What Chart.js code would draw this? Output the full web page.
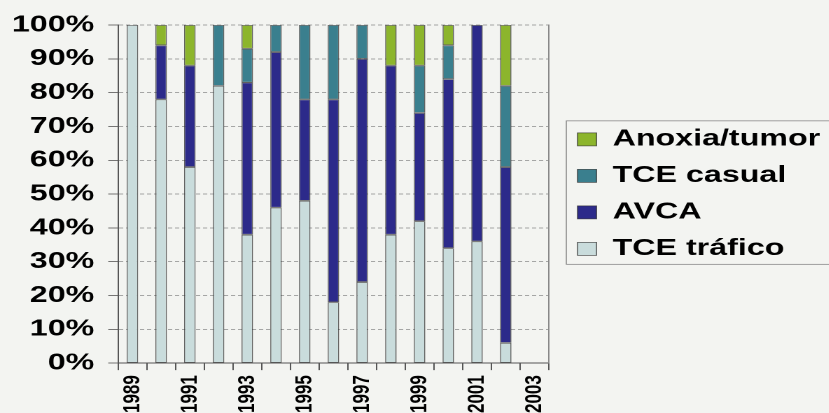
<!DOCTYPE html>
<html>
<head>
<meta charset="utf-8">
<script src="https://cdn.jsdelivr.net/npm/chart.js@4"></script>
<style>
    html, body { margin: 0; padding: 0; background: #f3f4f1; overflow: hidden; }
    /* the chart is laid out narrow and then widened, which gives the wide lettering */
    #wrap {
        position: absolute; left: 0; top: 0;
        width: 592px; height: 413px;
        transform: scaleX(1.4);
        transform-origin: 0 0;
    }
</style>
</head>
<body>
<div id="wrap"><canvas id="causasChart"></canvas></div>
<script>
// share of each cause per year (%)
const years = ['1989', '1990', '1991', '1992', '1993', '1994', '1995', '1996',
               '1997', '1998', '1999', '2000', '2001', '2002', '2003'];
const tceTrafico = [100, 78, 58, 82, 38, 46, 48, 18, 24, 38, 42, 34, 36, 6, 0];
const avca       = [0, 16, 30, 0, 45, 46, 30, 60, 66, 50, 32, 50, 64, 52, 0];
const tceCasual  = [0, 0, 0, 18, 10, 8, 22, 22, 10, 0, 14, 10, 0, 24, 0];
const anoxia     = [0, 6, 12, 0, 7, 0, 0, 0, 0, 12, 12, 6, 0, 18, 0];

const yTicks = [0, 10, 20, 30, 40, 50, 60, 70, 80, 90, 100];

var ctx = document.getElementById('causasChart').getContext('2d');

function serie(label, data, color) {
    return {
        label: label,
        data: data,
        backgroundColor: color,
        borderColor: 'rgba(45,45,45,0.75)',
        borderWidth: 0.8,
        borderSkipped: false,
        barPercentage: 0.4,
        categoryPercentage: 1.0
    };
}

// frame around the legend, open to the right edge like the original slide
const legendFrame = {
    id: 'legendFrame',
    afterDraw(chart) {
        const boxes = chart.legend.legendHitBoxes;
        if (!boxes || !boxes.length) return;
        const top = Math.min(...boxes.map(b => b.top)) - 7;
        const bottom = Math.max(...boxes.map(b => b.top + b.height)) + 4;
        const left = Math.min(...boxes.map(b => b.left)) - 8;
        const c = chart.ctx;
        c.save();
        c.strokeStyle = '#8a8a8a';
        c.lineWidth = 0.8;
        c.strokeRect(left, top, chart.width - left + 5, bottom - top);
        c.restore();
    }
};

var myChart = new Chart(ctx, {
    type: 'bar',
    data: {
        labels: years,
        datasets: [
            serie('TCE tráfico', tceTrafico, '#c9dcdc'),
            serie('AVCA', avca, '#2c2a8a'),
            serie('TCE casual', tceCasual, '#3a7f8e'),
            serie('Anoxia/tumor', anoxia, '#8cb52c')
        ]
    },
    options: {
        responsive: true,
        maintainAspectRatio: false,
        animation: false,
        devicePixelRatio: 2,
        layout: {
            padding: { top: 25, left: -1.5, right: 0, bottom: -5 }
        },
        scales: {
            x: {
                stacked: true,
                grid: {
                    offset: true,
                    drawOnChartArea: false,
                    drawTicks: true,
                    tickLength: 7,
                    tickColor: '#555'
                },
                border: { color: '#555', width: 1 },
                ticks: {
                    autoSkip: false,
                    minRotation: 90,
                    maxRotation: 90,
                    padding: 5,
                    color: '#000',
                    font: { family: 'Liberation Sans, Arial, sans-serif', size: 17, weight: 'bold' },
                    // only every other year is written under the axis
                    callback: function (value, index) {
                        return index % 2 === 0 ? years[index] : '';
                    }
                }
            },
            y: {
                stacked: true,
                min: 0,
                max: 100,
                afterBuildTicks: function (axis) {
                    axis.ticks = yTicks.map(v => ({ value: v }));
                },
                grid: {
                    color: '#8c8c8c',
                    lineWidth: 0.8,
                    tickLength: 7,
                    tickColor: '#555',
                    tickBorderDash: []
                },
                border: { color: '#555', width: 1, dash: [3, 2] },
                ticks: {
                    padding: 10,
                    color: '#000',
                    font: { family: 'Liberation Sans, Arial, sans-serif', size: 23, weight: 'bold' },
                    callback: function (value) {
                        return value + '%';
                    }
                }
            },
            // plain line closing the plot on the right
            y2: {
                position: 'right',
                min: 0,
                max: 100,
                grid: { drawOnChartArea: false, drawTicks: false },
                border: { color: '#888', width: 1 },
                ticks: { display: false },
                afterFit: function (axis) {
                    axis.width = 7;
                }
            }
        },
        plugins: {
            legend: {
                position: 'right',
                fullSize: false,
                reverse: true,
                maxWidth: 193,
                labels: {
                    boxWidth: 13.6,
                    boxHeight: 13,
                    padding: 13.5,
                    color: '#000',
                    font: { family: 'Liberation Sans, Arial, sans-serif', size: 23, weight: 'bold' }
                }
            },
            tooltip: { enabled: false }
        }
    },
    plugins: [legendFrame]
});
</script>
</body>
</html>
